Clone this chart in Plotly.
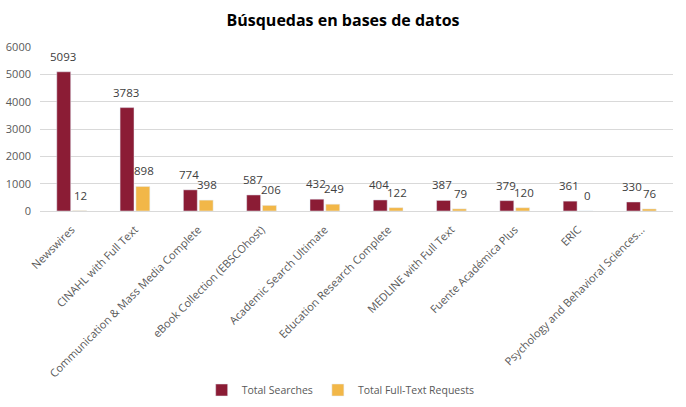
import plotly.graph_objects as go

categories = ["Newswires", "CINAHL with Full Text", "Communication & Mass Media Complete",
              "eBook Collection (EBSCOhost)", "Academic Search Ultimate", "Education Research Complete",
              "MEDLINE with Full Text", "Fuente Académica Plus", "ERIC",
              "Psychology and Behavioral Sciences..."]
total_searches = [5093, 3783, 774, 587, 432, 404, 387, 379, 361, 330]
full_text_requests = [12, 898, 398, 206, 249, 122, 79, 120, 0, 76]
y_ticks = [0, 1000, 2000, 3000, 4000, 5000, 6000]

font_family = "Open Sans, sans-serif"
series = [("Total Searches", total_searches, "#8B1C35", -9),
          ("Total Full-Text Requests", full_text_requests, "#F2B748", 9)]

fig = go.Figure()
for name, vals, color, dx in series:
    fig.add_trace(go.Bar(x=categories, y=vals, name=name, marker_color=color))
    for c, v in zip(categories, vals):
        fig.add_annotation(x=c, y=v, text=str(v), showarrow=False, xshift=dx, yshift=6,
                           yanchor="bottom", font=dict(size=11.5, color="#404040", family=font_family))

fig.update_layout(
    width=686, height=407,
    margin=dict(l=40, r=13, t=47, b=196, autoexpand=False),
    paper_bgcolor="white", plot_bgcolor="white",
    font=dict(family=font_family, color="#595959", size=11),
    title=dict(text="<b>Búsquedas en bases de datos</b>", x=0.5, xanchor="center",
               y=1 - 20/407, yanchor="middle",
               font=dict(size=16, color="#000000", family=font_family)),
    barmode="group", bargap=0.5, bargroupgap=0.12,
    legend=dict(orientation="h", x=0.475, xanchor="center", yref="container",
                y=1 - 390/407, yanchor="middle",
                font=dict(size=10.5, color="#595959"), itemwidth=30, traceorder="normal"),
    xaxis=dict(tickangle=-45, showline=True, linecolor="#D9D9D9", ticks="", automargin=False,
               ticklabelstandoff=7, tickfont=dict(size=11, color="#595959")),
    yaxis=dict(range=[0, 6000], tickvals=y_ticks, showgrid=True, gridcolor="#D9D9D9",
               zeroline=False, showline=False, ticks="", automargin=False, ticklabelstandoff=8,
               tickfont=dict(size=11, color="#595959")),
)

fig.write_html("out.html")
